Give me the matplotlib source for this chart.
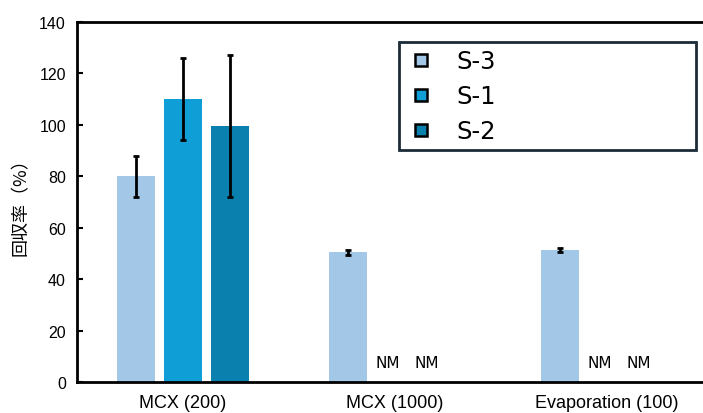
import numpy as np
import matplotlib
matplotlib.use("Agg")
import matplotlib.pyplot as plt
from matplotlib.lines import Line2D

categories = ["MCX (200)", "MCX (1000)", "Evaporation (100)"]
series = ["S-3", "S-1", "S-2"]
s3_vals = [80, 50.5, 51.5]
s3_err = [8, 1.0, 0.8]
s1_vals = [110, np.nan, np.nan]
s1_err = [16, np.nan, np.nan]
s2_vals = [99.5, np.nan, np.nan]
s2_err = [27.5, np.nan, np.nan]
colors = ["#A3C7E7", "#0F9ED5", "#0A80AE"]
yticks = [0, 20, 40, 60, 80, 100, 120, 140]

fig = plt.figure(figsize=(7.03, 4.14), dpi=100)
ax = fig.add_axes([77/703, 1-383/414, 636/703, 360/414])

x = np.arange(len(categories))
step = 0.222
width = 0.177
vals = [s3_vals, s1_vals, s2_vals]
errs = [s3_err, s1_err, s2_err]
for k in range(3):
    pos = x + (k - 1) * step
    v = np.array(vals[k], dtype=float)
    e = np.array(errs[k], dtype=float)
    ok = ~np.isnan(v)
    ax.bar(pos[ok], v[ok], width, color=colors[k], zorder=2)
    ax.errorbar(pos[ok], v[ok], yerr=e[ok], fmt="none", ecolor="black",
                elinewidth=2, capsize=2.3, capthick=2, zorder=3)
    # not measured
    for i in np.where(~ok)[0]:
        ax.text(pos[i] - 0.035 * k, 7.4, "NM", ha="center", va="center",
                fontsize=11, family="DejaVu Sans")

ax.set_xlim(-0.5, 2.5)
ax.set_ylim(0, 140)
ax.set_xticks(x)
ax.set_xticklabels(categories, fontsize=13, family="Liberation Sans")
ax.set_yticks(yticks)
ax.set_yticklabels([str(t) for t in yticks], fontsize=11.5, family="Liberation Sans")
ax.tick_params(axis="y", direction="in", length=4, width=1.5, pad=8)
ax.tick_params(axis="x", length=0, pad=9)
for s in ax.spines.values():
    s.set_linewidth(2)
ax.set_ylabel("回収率（%）", fontsize=13, family=["Noto Sans CJK JP", "DejaVu Sans"],
              labelpad=7)

handles = [Line2D([], [], ls="none", marker="s", markersize=9, markerfacecolor=c,
                  markeredgecolor="black", markeredgewidth=1.8) for c in colors]
leg = ax.legend(handles, series, loc="upper left", mode="expand",
                bbox_to_anchor=(399/703, 1-149/414, 297/703, 106/414),
                bbox_transform=fig.transFigure, borderaxespad=0,
                prop={"family": "DejaVu Sans", "size": 17.5}, fancybox=False,
                edgecolor="#1B2B38", framealpha=1, labelspacing=0.45,
                handlelength=1.2, handletextpad=0.85, borderpad=0.3)
leg.get_frame().set_linewidth(2)

fig.savefig("out.png", dpi=100)
